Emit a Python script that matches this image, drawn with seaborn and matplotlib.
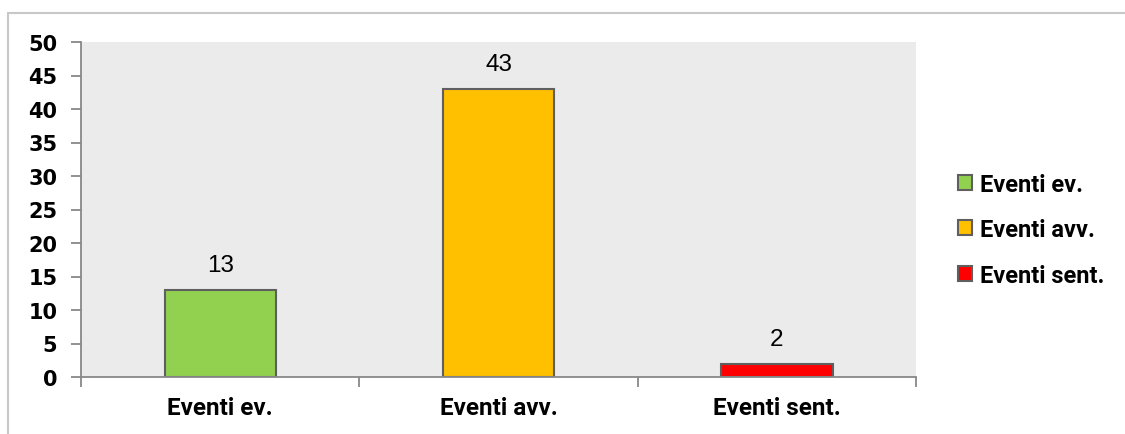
import matplotlib
matplotlib.use("Agg")
import matplotlib.pyplot as plt
import seaborn as sns
import pandas as pd
from matplotlib.patches import Rectangle

categorie = ["Eventi ev.", "Eventi avv.", "Eventi sent."]
valori = [13, 43, 2]
colori = ["#92D050", "#FFC000", "#FF0000"]

sns.set_style("white")
plt.rcParams["font.family"] = ["Roboto", "DejaVu Sans"]
plt.rcParams["text.color"] = "black"
plt.rcParams["xtick.color"] = "#888888"
plt.rcParams["ytick.color"] = "#888888"
plt.rcParams["xtick.labelcolor"] = "black"
plt.rcParams["ytick.labelcolor"] = "black"

df = pd.DataFrame({"cat": categorie, "val": valori})

fig = plt.figure(figsize=(11.25, 4.35), dpi=100)
# cornice esterna
fig.patches.append(Rectangle((8 / 1125, -0.1), 1.2, 1 - 14 / 435 + 0.1,
                             transform=fig.transFigure, fill=False,
                             edgecolor="#C8C8C8", linewidth=1.5))
ax = fig.add_axes([81 / 1125, 1 - 378 / 435, (916 - 81) / 1125, (378 - 43) / 435])
ax.set_facecolor("#EBEBEB")

sns.barplot(data=df, x="cat", y="val", hue="cat", palette=colori, width=0.4,
            saturation=1, edgecolor="#5F5F5F", linewidth=1.5, legend=True, ax=ax)

for i, v in enumerate(valori):
    ax.text(i, v + 2.1, str(v), ha="center", va="bottom", fontsize=17.5,
            color="black", family=["Liberation Sans", "DejaVu Sans"])

ax.set_ylim(0, 50)
ax.set_xlim(-0.5, 2.5)
ax.set_yticks(range(0, 51, 5))
ax.set_xlabel("")
ax.set_ylabel("")
ax.set_xticks([-0.5, 0.5, 1.5, 2.5], minor=True)
ax.tick_params(axis="x", which="major", bottom=True, length=0, pad=13.5)
ax.tick_params(axis="x", which="minor", bottom=True, length=7, width=1.3)
ax.tick_params(axis="y", left=True, length=7, width=1.3, pad=10)
for lab in ax.get_yticklabels():
    lab.set_fontfamily("DejaVu Sans")
    lab.set_fontweight("bold")
    lab.set_fontsize(15)
for lab in ax.get_xticklabels():
    lab.set_fontweight("bold")
    lab.set_fontsize(17.5)

for s in ["top", "right"]:
    ax.spines[s].set_visible(False)
for s in ["left", "bottom"]:
    ax.spines[s].set_color("#888888")
    ax.spines[s].set_linewidth(1.3)

leg = ax.legend(loc="center left", bbox_to_anchor=(1.025, 0.44), frameon=False,
                handlelength=0.6, handleheight=0.6, handletextpad=0.34,
                labelspacing=0.95, prop={"weight": "bold", "size": 17})
for t in leg.get_texts():
    t.set_color("black")

fig.savefig("out.png", dpi=100)
